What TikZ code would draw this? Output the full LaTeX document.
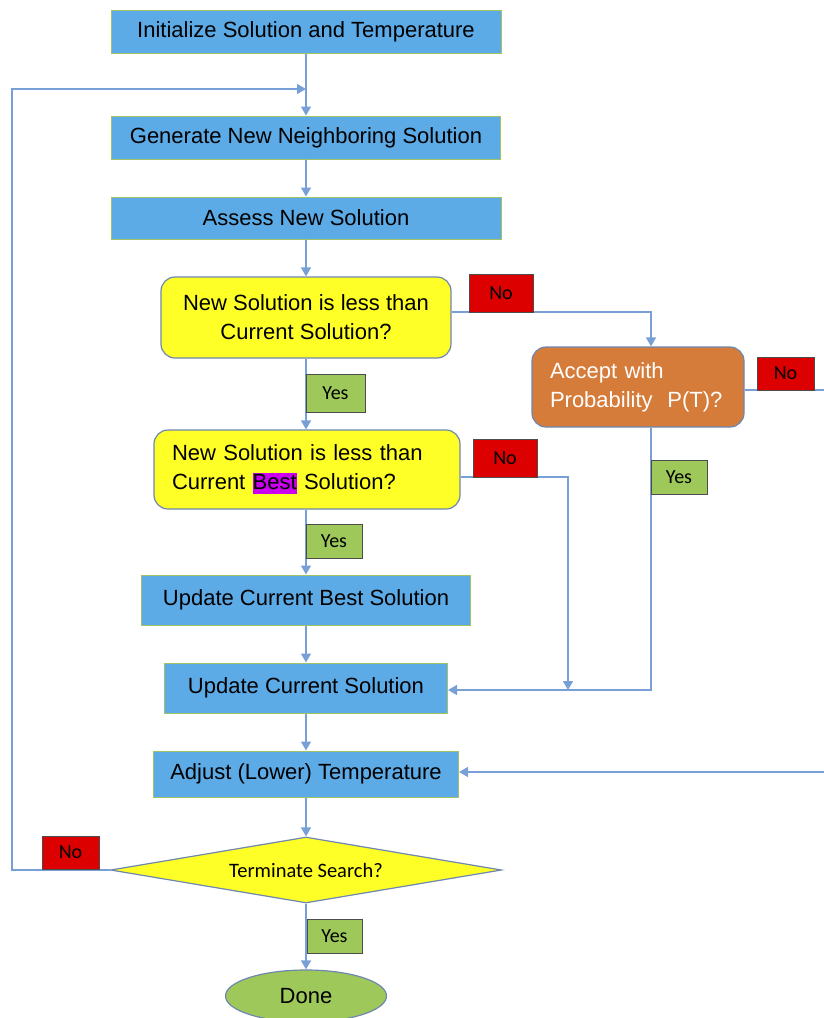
\documentclass[tikz,border=0pt]{standalone}
\usepackage{fontspec}
\setmainfont{Liberation Sans}
\newfontfamily\calibri{Carlito}
\usetikzlibrary{calc,arrows.meta,shapes.geometric}

\definecolor{boxblue}{RGB}{92,170,230}
\definecolor{boxedge}{RGB}{160,195,100}
\definecolor{askyellow}{RGB}{255,255,40}
\definecolor{askedge}{RGB}{110,135,175}
\definecolor{acceptorange}{RGB}{214,124,58}
\definecolor{nored}{RGB}{220,0,0}
\definecolor{yesgreen}{RGB}{158,200,90}
\definecolor{flowblue}{RGB}{120,160,215}
\definecolor{bestpink}{RGB}{204,0,240}

\newcommand{\boxfont}{\fontsize{22}{29}\selectfont}
\newcommand{\tagfont}{\calibri\fontsize{20}{20}\selectfont}
\newcommand{\hilite}[1]{{\setlength{\fboxsep}{0pt}\colorbox{bestpink}{\rule[-0.22em]{0pt}{0.98em}#1}}}

\begin{document}
\begin{tikzpicture}[x=1pt,y=-1pt,
	stepbox/.style={draw=boxedge, line width=1pt, fill=boxblue, minimum height=43pt, inner sep=0pt, font=\boxfont},
	askbox/.style={draw=askedge, line width=1.2pt, fill=askyellow, rounded corners=14pt, inner sep=0pt, font=\boxfont},
	nolabel/.style={draw=black!70, fill=nored, inner sep=0pt, font=\tagfont},
	yeslabel/.style={draw=black!70, fill=yesgreen, inner sep=0pt, font=\tagfont},
	flow/.style={draw=flowblue, line width=1.5pt, -{Triangle[width=10pt,length=9pt]}},
	link/.style={draw=flowblue, line width=1.5pt}]

		\useasboundingbox (0,0) rectangle (823,1018);

		% Main column
		\node [stepbox, minimum width=390pt] (init) at (306,31.5) {Initialize Solution and Temperature};
		\node [stepbox, minimum width=389pt] (gen) at (306,137.5) {Generate New Neighboring Solution};
		\node [stepbox, minimum width=390pt, minimum height=42pt] (assess) at (306,218) {Assess New Solution};
		\node [askbox, minimum width=290pt, minimum height=81pt, align=center] (lessCur) at (306,317.5) {New Solution is less than\\Current Solution?};
		\node [askbox, minimum width=306pt, minimum height=79pt, text width=270pt, align=left] (lessBest) at (307,469.5) {New Solution is less than\\Current \hilite{Best} Solution?};
		\node [stepbox, minimum width=329pt, minimum height=50pt] (updBest) at (306,600) {Update Current Best Solution};
		\node [stepbox, minimum width=283pt, minimum height=50pt] (updCur) at (306,688) {Update Current Solution};
		\node [stepbox, minimum width=305pt, minimum height=46pt] (adjust) at (306,774) {Adjust (Lower) Temperature};
		\node [diamond, aspect=5.9, draw=askedge, line width=1.2pt, fill=askyellow, minimum width=391pt, minimum height=66pt, inner sep=0pt, font=\calibri\fontsize{20.5}{20.5}\selectfont] (term) at (306,870) {Terminate Search?};
		\node [ellipse, draw=askedge, line width=1.2pt, fill=yesgreen, minimum width=161pt, minimum height=52pt, font=\boxfont] (done) at (306,996) {Done};

		% Side branch
		\node [askbox, fill=acceptorange, text=white, minimum width=212pt, minimum height=80pt, text width=176pt, align=left] (accept) at (638,387) {Accept with\\Probability~~P(T)?};

		% Bends
		\coordinate (merge) at (306,89);
		\coordinate (loopTop) at (12,89);
		\coordinate (loopBot) at (12,870);
		\coordinate (toAcc) at (651,312);
		\coordinate (fromAcc) at (651,690);
		\coordinate (bestBend) at (568,477);
		\coordinate (bestDrop) at (568,690);
		\coordinate (edgeTop) at (840,390);
		\coordinate (edgeBot) at (840,772);

		\draw [flow] (init) -- (gen);
		\draw [flow] (gen) -- (assess);
		\draw [flow] (assess) -- (lessCur);
		\draw [flow] (lessCur) -- (lessCur |- lessBest.north);
		\draw [flow] (lessCur |- lessBest.south) -- (updBest);
		\draw [flow] (updBest) -- (updCur);
		\draw [flow] (updCur) -- (adjust);
		\draw [flow] (adjust) -- (term);
		\draw [flow] (term) -- (done);

		% loop back
		\draw [flow] (term.west) -- (loopBot) -- (loopTop) -- (merge);

		% no / yes branches
		\draw [flow] (lessCur.east |- toAcc) -- (toAcc) -- (toAcc |- accept.north);
		\draw [flow] (toAcc |- accept.south) -- (fromAcc) -- (updCur.east |- fromAcc);
		\draw [flow] (lessBest.east |- bestBend) -- (bestBend) -- (bestDrop);
		\draw [flow] (accept.east |- edgeTop) -- (edgeTop) -- (edgeBot) -- (adjust.east |- edgeBot);

		% Labels
		\node [nolabel, minimum width=64pt, minimum height=38pt] (noCur) at (501,293) {No};
		\node [nolabel, minimum width=57pt, minimum height=33pt] (noAcc) at (785.5,373.5) {No};
		\node [nolabel, minimum width=64pt, minimum height=38pt] (noBest) at (505,458) {No};
		\node [nolabel, minimum width=57pt, minimum height=33pt] (noTerm) at (70.5,852.5) {No};
		\node [yeslabel, minimum width=59pt, minimum height=38pt] (yesCur) at (335.5,393) {Yes};
		\node [yeslabel, minimum width=56pt, minimum height=34pt] (yesBest) at (334,541) {Yes};
		\node [yeslabel, minimum width=56pt, minimum height=34pt] (yesAcc) at (679,477) {Yes};
		\node [yeslabel, minimum width=55pt, minimum height=34pt] (yesTerm) at (334.5,936) {Yes};

	\end{tikzpicture}
\end{document}
